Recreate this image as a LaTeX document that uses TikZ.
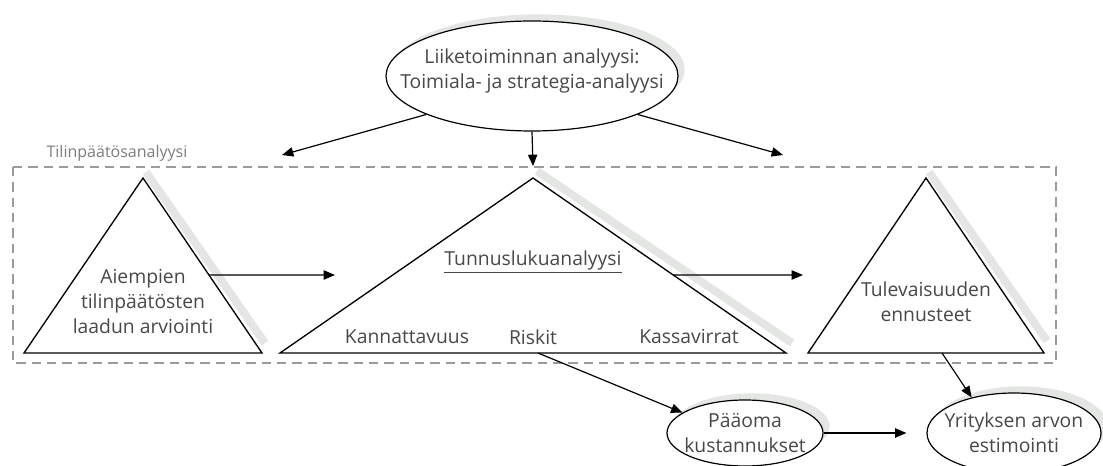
\documentclass[tikz,border=0pt]{standalone}
\usepackage{xcolor}
\usepackage{tikz}
\usetikzlibrary{shapes.geometric,arrows.meta,calc,shadows}
\usepackage{fontspec}
\setmainfont{Open Sans}

\definecolor{txtgray}{RGB}{72,72,72}
\definecolor{lblgray}{RGB}{125,125,125}
\definecolor{framegray}{RGB}{155,155,155}
\definecolor{shadegray}{RGB}{228,230,228}

\tikzset{
  oval/.style={ellipse, draw, line width=0.9pt, fill=white, inner sep=0pt,
    drop shadow={shadow xshift=5pt, shadow yshift=5pt, fill=shadegray, opacity=1}},
  txt/.style={inner sep=0pt, align=center, text=txtgray, font=\fontsize{14.5}{18.75}\selectfont},
  conn/.style={line width=0.9pt, -{Triangle[length=8.5pt,width=7pt]}},
  tri/.style={line width=1pt, line join=miter},
  shade line/.style={line width=6pt, shadegray},
  frame/.style={line width=2pt, framegray, dash pattern=on 7pt off 4.5pt},
}

\begin{document}
\begin{tikzpicture}[x=0.75pt,y=0.75pt,yscale=-1]
\useasboundingbox (0,0) rectangle (1103,466);

% corners of the triangles
\coordinate (la) at (143,178); \coordinate (lb) at (24,353);  \coordinate (lc) at (262,353);
\coordinate (ma) at (533,178); \coordinate (mb) at (280,353); \coordinate (mc) at (786,353);
\coordinate (ra) at (926,178); \coordinate (rb) at (808,353); \coordinate (rc) at (1044,353);

% shadows of the triangles
\draw[shade line] ([shift={(3,-6)}]la) -- ([shift={(3,-10)}]lc);
\draw[shade line] ([shift={(4,-7)}]ma) -- ([shift={(6,-10)}]mc);
\draw[shade line] ([shift={(3,-6)}]ra) -- ([shift={(3,-12)}]rc);

% dashed frame
\draw[frame] (13,167) rectangle (1056,363);
\node[inner sep=0pt, text=lblgray, font=\fontsize{12}{14}\selectfont] (tilin) at (117,153) {Tilinpäätösanalyysi};

% triangles
\draw[tri] (lb) -- (la) -- (lc) -- cycle;
\draw[tri] (mb) -- (ma) -- (mc) -- cycle;
\draw[tri] (rb) -- (ra) -- (rc) -- cycle;

% texts in the triangles
\node[txt] (aiemp) at (143,302) {Aiempien\\tilinpäätösten\\laadun arviointi};
\node[txt] (tunnus) at (533,262) {\underline{Tunnuslukuanalyysi}};
\node[txt] (kann) at (407,337) {Kannattavuus};
\node[txt] (riskit) at (533,337) {Riskit};
\node[txt] (kassa) at (689,337) {Kassavirrat};
\node[txt] (tulev) at (926,302) {Tulevaisuuden\\ennusteet};

% ellipses
\node[oval, minimum width=219pt, minimum height=82.5pt] (liike) at (532,76) {};
\node[oval, minimum width=117pt, minimum height=49.5pt] (paaoma) at (745,433) {};
\node[oval, minimum width=130.5pt, minimum height=60pt] (yritys) at (1014,433) {};
\node[txt] (liiketxt) at (532,71) {Liiketoiminnan analyysi:\\Toimiala- ja strategia-analyysi};
\node[txt] (paaomatxt) at (745,433) {Pääoma\\kustannukset};
\node[txt] (yritystxt) at (1014,433) {Yrityksen arvon\\estimointi};

% free ends of the arrows
\coordinate (tl) at (282,155);
\coordinate (tm) at (533,166);
\coordinate (tr) at (783,155);
\coordinate (l2m) at ($(la)!.554!(lc)$);
\coordinate (mt) at (335,275);
\coordinate (m2r) at ($(ma)!.554!(mc)$);
\coordinate (rt) at (803,275);
\coordinate (rs) at (538,353);
\coordinate (re) at (942,353);

% arrows
\draw[conn] (liike.200) -- (tl);
\draw[conn] (liike.south) -- (tm);
\draw[conn] (liike.-20) -- (tr);
\draw[conn] (l2m) -- (mt);
\draw[conn] (m2r) -- (rt);
\draw[conn] (rs) -- (paaoma.162);
\draw[conn] (re) -- (yritys.140);
\draw[conn, shorten >=15pt] (paaoma) -- (yritys);

\end{tikzpicture}
\end{document}
